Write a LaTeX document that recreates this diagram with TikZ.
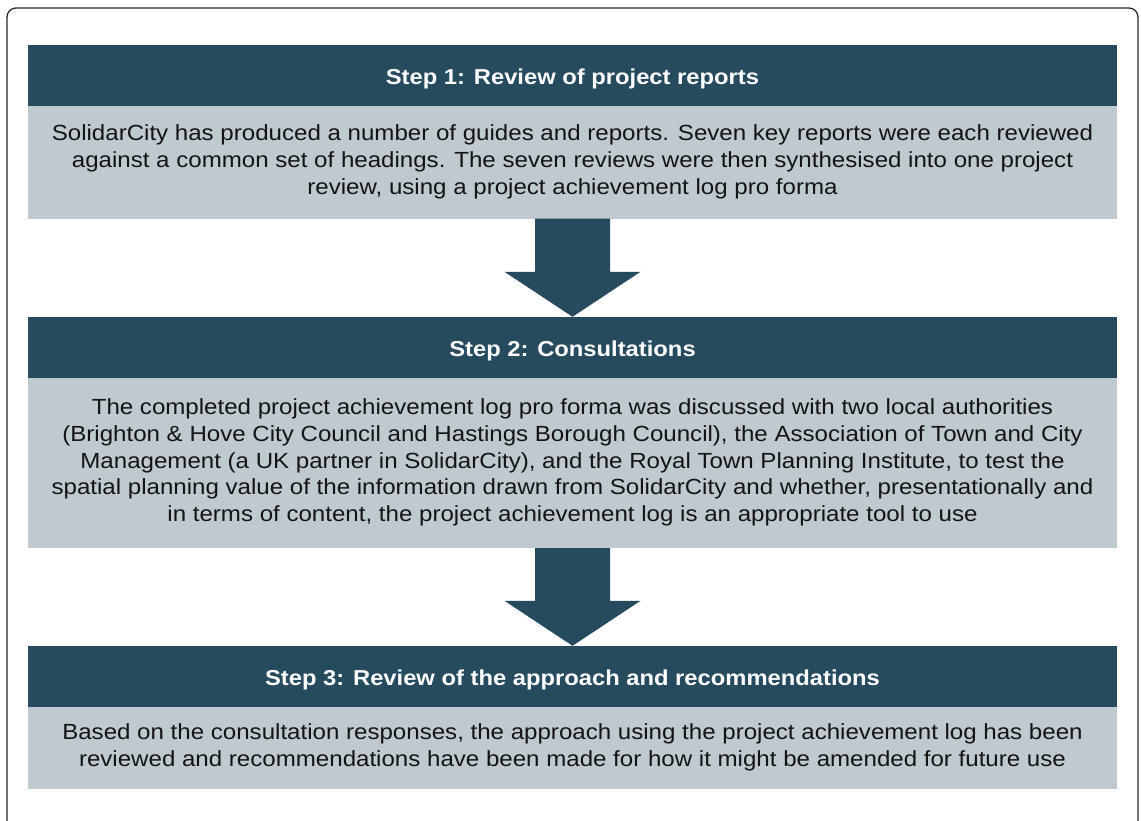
\documentclass[tikz,border=0pt]{standalone}
\usepackage{fontspec}
\setmainfont{Liberation Sans}[FakeStretch=1.1]
\usetikzlibrary{calc}
\definecolor{hdr}{RGB}{38,74,94}
\definecolor{bdy}{RGB}{190,201,208}
\definecolor{frm}{RGB}{40,40,40}
\definecolor{txt}{RGB}{20,20,20}
\begin{document}
\begin{tikzpicture}[x=1pt,y=-1pt,
  hdrbox/.style={fill=hdr, draw=none, minimum width=1089pt, minimum height=61pt, inner sep=0pt},
  bdybox/.style={fill=bdy, draw=none, minimum width=1089pt, inner sep=0pt, align=center,
                 text=txt, font=\fontsize{21.9}{26.8}\selectfont},
  ttl/.style={text=white, font=\bfseries\fontsize{21.6}{26}\selectfont, anchor=base, inner sep=0pt},
  blockarrow/.style={fill=hdr, draw=none}]
\useasboundingbox (0,0) rectangle (1141,820);
\draw[frm, line width=1.3pt, rounded corners=9pt] (7,835) -- (7,8) -- (1138,8) -- (1138,835);

% Bodies
\node[bdybox, minimum height=113pt] (b1) at (572.5,162)
  {SolidarCity has produced a number of guides and reports. Seven key reports were each reviewed\\
   against a common set of headings. The seven reviews were then synthesised into one project\\
   review, using a project achievement log pro forma};
\node[bdybox, minimum height=171pt] (b2) at (572.5,462.5)
  {The completed project achievement log pro forma was discussed with two local authorities\\
   (Brighton \& Hove City Council and Hastings Borough Council), the Association of Town and City\\
   Management (a UK partner in SolidarCity), and the Royal Town Planning Institute, to test the\\
   spatial planning value of the information drawn from SolidarCity and whether, presentationally and\\
   in terms of content, the project achievement log is an appropriate tool to use};
\node[bdybox, minimum height=83pt] (b3) at (572.5,747.5)
  {Based on the consultation responses, the approach using the project achievement log has been\\
   reviewed and recommendations have been made for how it might be amended for future use};

% Headers
\node[hdrbox] (h1) at (572.5,75.5) {};
\node[ttl] (t1) at ([yshift=-8.5pt]h1.center) {Step 1: Review of project reports};
\node[hdrbox] (h2) at (572.5,347.5) {};
\node[ttl] (t2) at ([yshift=-8.5pt]h2.center) {Step 2: Consultations};
\node[hdrbox] (h3) at (572.5,676.5) {};
\node[ttl] (t3) at ([yshift=-8.5pt]h3.center) {Step 3: Review of the approach and recommendations};

% Block arrows
\foreach \from/\to in {b1/h2, b2/h3}{
  \fill[blockarrow] ([xshift=-37.5pt]\from.south) -- ([xshift=37.5pt]\from.south)
    -- ([xshift=37.5pt,yshift=45pt]\to.north) -- ([xshift=68pt,yshift=45pt]\to.north)
    -- (\to.north)
    -- ([xshift=-68pt,yshift=45pt]\to.north) -- ([xshift=-37.5pt,yshift=45pt]\to.north) -- cycle;
}
\end{tikzpicture}
\end{document}
